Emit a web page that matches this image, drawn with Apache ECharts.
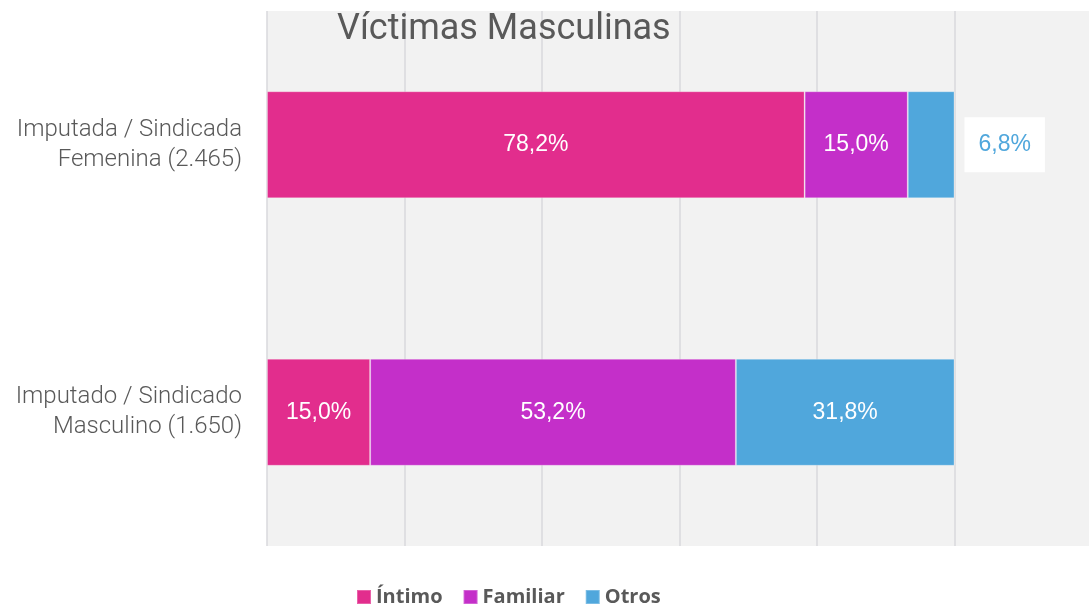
<!DOCTYPE html>
<html>
<head>
<meta charset="utf-8">
<script src="https://cdn.jsdelivr.net/npm/echarts@6/dist/echarts.min.js"></script>
<style>
  html, body { margin: 0; padding: 0; background: #fff; }
  #main { width: 1089px; height: 605px; }
</style>
</head>
<body>
<div id="main"></div>
<script>
// categorias (de arriba hacia abajo)
var categorias = ['Imputada / Sindicada\nFemenina (2.465)', 'Imputado / Sindicado\nMasculino (1.650)'];
var intimo = [78.2, 15.0];
var familiar = [15.0, 53.2];
var otros = [6.8, 31.8];
var ejeTicks = [0, 20, 40, 60, 80, 100, 120];

var colores = ['#e22d8d', '#c42fc9', '#50a7dc'];

function fmt(p) {
  return p.value.toFixed(1).replace('.', ',') + '%';
}

var chart = echarts.init(document.getElementById('main'));

var labelDentro = {
  show: true,
  position: 'inside',
  color: '#fff',
  fontSize: 23,
  fontFamily: 'Liberation Sans',
  formatter: fmt
};

chart.setOption({
  backgroundColor: '#fff',
  animation: false,
  title: {
    text: 'Víctimas Masculinas',
    left: 332,
    top: 7,
    textStyle: { fontSize: 36, fontWeight: 'normal', color: '#595959', fontFamily: 'Roboto' }
  },
  legend: {
    top: 582,
    left: 351,
    itemWidth: 14,
    itemHeight: 14,
    itemGap: 20,
    icon: 'rect',
    textStyle: { fontSize: 20, fontWeight: 'bold', color: '#595959', fontFamily: 'Open Sans' },
    data: ['Íntimo', 'Familiar', 'Otros']
  },
  grid: {
    left: 267,
    width: 825,
    top: 11,
    bottom: 59,
    outerBoundsMode: 'none',
    show: true,
    backgroundColor: '#f2f2f2',
    borderWidth: 0
  },
  xAxis: {
    type: 'value',
    min: ejeTicks[0],
    max: ejeTicks[ejeTicks.length - 1],
    interval: 20,
    axisLabel: { show: false },
    axisLine: { show: false },
    axisTick: { show: false },
    splitLine: { show: true, lineStyle: { color: '#d9d9dd', width: 1.5 } }
  },
  yAxis: {
    type: 'category',
    inverse: true,
    data: categorias,
    axisLine: { show: false },
    axisTick: { show: false },
    axisLabel: {
      margin: 25,
      fontSize: 24,
      lineHeight: 30,
      color: '#595959',
      fontFamily: 'Roboto',
      fontWeight: 300,
      align: 'right'
    }
  },
  series: [{
    name: 'Íntimo',
    type: 'bar',
    stack: 'total',
    barWidth: '40%',
    itemStyle: { color: colores[0], borderColor: 'rgba(255,255,255,0.25)', borderWidth: 1 },
    label: labelDentro,
    data: intimo
  }, {
    name: 'Familiar',
    type: 'bar',
    stack: 'total',
    itemStyle: { color: colores[1], borderColor: 'rgba(255,255,255,0.25)', borderWidth: 1 },
    label: labelDentro,
    data: familiar
  }, {
    name: 'Otros',
    type: 'bar',
    stack: 'total',
    itemStyle: { color: colores[2], borderColor: 'rgba(255,255,255,0.25)', borderWidth: 1 },
    label: labelDentro,
    data: [{
      value: otros[0],
      label: {
        show: true,
        position: 'right',
        distance: 10,
        color: colores[2],
        backgroundColor: '#fff',
        padding: [16, 14],
        fontSize: 23,
        fontFamily: 'Liberation Sans',
        formatter: fmt
      }
    }, otros[1]]
  }]
});
</script>
</body>
</html>
